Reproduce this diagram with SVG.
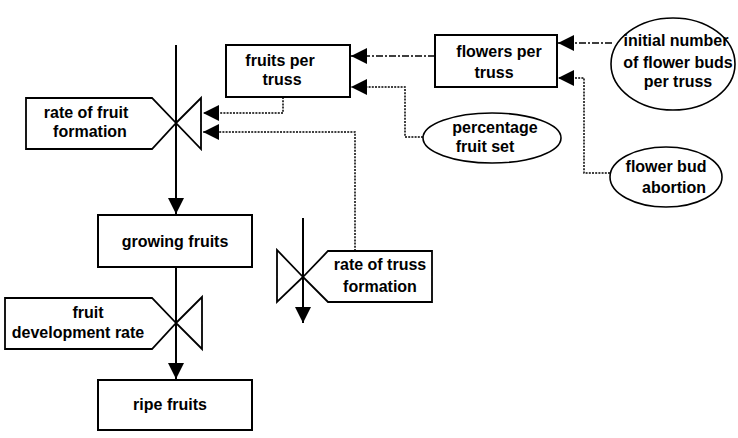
<svg xmlns="http://www.w3.org/2000/svg" width="738" height="438" viewBox="0 0 738 438">
<style>
text{font-family:"Liberation Sans",Arial,sans-serif;font-weight:bold;font-size:16px;fill:#000;text-anchor:middle}
.box{fill:#fff;stroke:#000;stroke-width:2}
.ell{fill:#fff;stroke:#000;stroke-width:1.6}
.valve{fill:#fff;stroke:#000;stroke-width:1.8;stroke-linejoin:miter}
.flow{fill:none;stroke:#000;stroke-width:2}
.info{fill:none;stroke:#000;stroke-width:1.5;stroke-dasharray:2 1.2}
.dd{fill:none;stroke:#000;stroke-width:1.5;stroke-dasharray:7 2 2 2}
</style>
<defs>
<marker id="ah" markerUnits="userSpaceOnUse" markerWidth="16" markerHeight="16" refX="16" refY="8" orient="auto">
<path d="M0,0 L16,8 L0,16 Z" fill="#000"/>
</marker>
</defs>
<rect width="738" height="438" fill="#fff"/>
<g id="connectors">
<path class="flow" d="M176,45 V214" marker-end="url(#ah)"/>
<path class="flow" d="M176,267 V379" marker-end="url(#ah)"/>
<path class="flow" d="M303,218 V323" marker-end="url(#ah)"/>
<path class="dd" d="M612,43 H558" marker-end="url(#ah)"/>
<path class="info" d="M610,173 H584 V78 H558" marker-end="url(#ah)"/>
<path class="dd" d="M435,56 H351" marker-end="url(#ah)"/>
<path class="info" d="M423,137 H405 V87 H351" marker-end="url(#ah)"/>
<path class="info" d="M283,97 V113 H203" marker-end="url(#ah)"/>
<path class="info" d="M355,251 V132 H203" marker-end="url(#ah)"/>
</g>
<g id="fruits-per-truss">
<rect class="box" x="226" y="45" width="124" height="52"/>
<text x="280" y="66">fruits per</text>
<text x="282" y="85">truss</text>
</g>
<g id="flowers-per-truss">
<rect class="box" x="435" y="35" width="122" height="52"/>
<text x="499" y="57">flowers per</text>
<text x="494" y="78">truss</text>
</g>
<g id="initial-number">
<ellipse class="ell" cx="673" cy="64" rx="62" ry="46"/>
<text x="676" y="46">initial number</text>
<text x="678" y="68">of flower buds</text>
<text x="678" y="87">per truss</text>
</g>
<g id="percentage-fruit-set">
<ellipse class="ell" cx="492" cy="138" rx="69" ry="25"/>
<text x="495" y="133">percentage</text>
<text x="485" y="152">fruit set</text>
</g>
<g id="flower-bud-abortion">
<ellipse class="ell" cx="666" cy="177" rx="56" ry="30"/>
<text x="666" y="172">flower bud</text>
<text x="674" y="193">abortion</text>
</g>
<g id="rate-of-fruit-formation">
<polygon class="valve" points="26,98 152,98 176,123 152,149 26,149"/>
<polygon class="valve" points="176,123 201,98 201,149"/>
<text x="86" y="118">rate of fruit</text>
<text x="90" y="137">formation</text>
</g>
<g id="growing-fruits">
<rect class="box" x="98" y="215" width="154" height="52"/>
<text x="175" y="247">growing fruits</text>
</g>
<g id="fruit-development-rate">
<polygon class="valve" points="5,298 152,298 176,323 152,349 5,349"/>
<polygon class="valve" points="176,323 202,297 202,349"/>
<text x="88" y="318">fruit</text>
<text x="78" y="338">development rate</text>
</g>
<g id="ripe-fruits">
<rect class="box" x="98" y="380" width="154" height="50"/>
<text x="170" y="410">ripe fruits</text>
</g>
<g id="rate-of-truss-formation">
<polygon class="valve" points="303,277 277,250 277,302"/>
<polygon class="valve" points="303,277 328,251 432,251 432,302 328,302"/>
<text x="380" y="270">rate of truss</text>
<text x="380" y="292">formation</text>
</g>
</svg>
